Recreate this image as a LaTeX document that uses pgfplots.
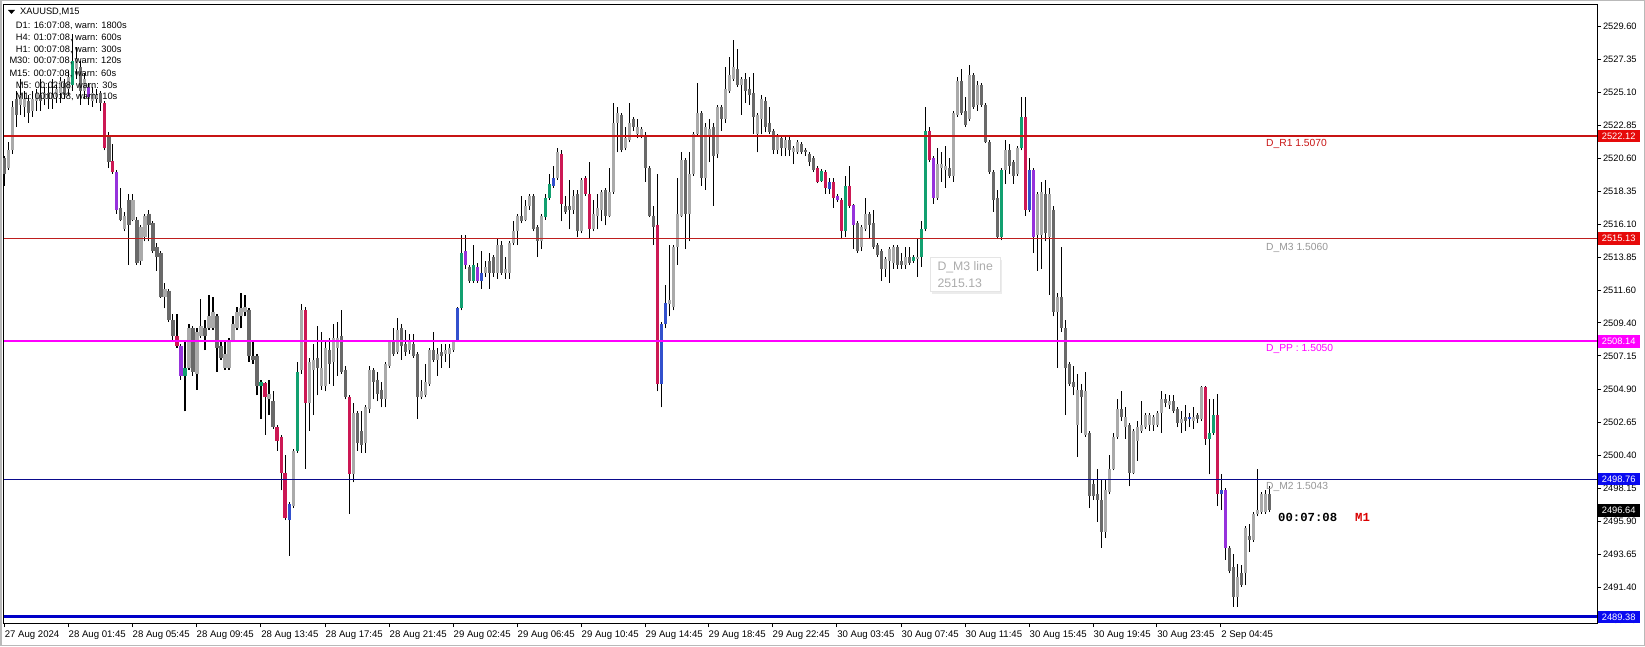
\documentclass[border=0pt]{standalone}
\usepackage{pgfplots}
\pgfplotsset{compat=1.18}
\usepackage{pgfplotstable}
\usepackage{fontspec}
\setmainfont{Liberation Sans}
\setmonofont{Liberation Mono}
\usetikzlibrary{shadows}

\definecolor{cLight}{RGB}{170,170,170}
\definecolor{cDark}{RGB}{105,105,105}
\definecolor{cGreen}{RGB}{18,160,112}
\definecolor{cCrimson}{RGB}{204,24,84}
\definecolor{cPurple}{RGB}{150,50,220}
\definecolor{cBlue}{RGB}{50,80,205}
\definecolor{cR1}{RGB}{200,20,20}
\definecolor{cM3}{RGB}{190,30,30}
\definecolor{cPP}{RGB}{255,0,255}
\definecolor{cM2}{RGB}{10,10,140}
\definecolor{cS1}{RGB}{0,0,200}
\definecolor{boxRed}{RGB}{230,10,10}
\definecolor{boxBlue}{RGB}{10,10,240}
\definecolor{lblGray}{RGB}{150,150,150}

\pgfplotstableread{
i o h l c k
0 2520.61 2520.74 2518.72 2519.53 1
1 2519.93 2521.68 2519.80 2521.14 0
2 2521.14 2524.51 2520.88 2524.10 0
3 2524.64 2525.18 2522.76 2523.57 1
4 2524.24 2525.99 2523.57 2524.91 0
5 2524.10 2525.18 2523.43 2524.64 0
6 2524.51 2524.91 2523.03 2523.70 1
7 2523.84 2525.18 2523.43 2524.64 0
8 2524.51 2525.32 2523.84 2525.05 0
9 2524.91 2525.99 2523.84 2524.51 1
10 2524.64 2525.45 2524.24 2525.05 0
11 2525.05 2525.72 2523.97 2524.64 1
12 2524.64 2525.99 2523.97 2524.91 0
13 2524.78 2525.58 2524.37 2525.32 0
14 2525.05 2526.12 2524.37 2525.85 0
15 2525.72 2525.99 2524.64 2524.91 1
16 2525.32 2526.53 2524.91 2526.12 0
17 2525.58 2529.08 2525.18 2527.20 2
18 2526.66 2528.14 2525.99 2527.33 0
19 2526.80 2527.20 2524.24 2525.18 1
20 2525.18 2526.39 2524.64 2525.99 0
21 2525.45 2525.72 2524.24 2524.78 4
22 2524.51 2525.45 2524.10 2525.05 0
23 2524.64 2525.32 2524.37 2524.91 0
24 2525.05 2525.18 2523.84 2524.37 1
25 2524.37 2524.51 2521.14 2521.28 3
26 2522.09 2522.36 2519.93 2520.34 1
27 2520.39 2521.55 2519.53 2519.66 3
28 2519.66 2519.80 2516.84 2517.11 4
29 2517.24 2518.59 2516.30 2516.43 1
30 2515.76 2516.97 2515.63 2516.70 0
31 2517.78 2518.18 2513.34 2516.03 1
32 2516.43 2518.18 2516.30 2517.78 0
33 2516.43 2516.57 2513.34 2513.47 1
34 2513.61 2516.03 2513.34 2515.90 0
35 2515.22 2516.84 2514.95 2516.70 0
36 2516.84 2517.11 2514.95 2516.03 1
37 2516.17 2516.30 2514.15 2514.28 1
38 2514.55 2514.82 2512.94 2513.88 1
39 2514.15 2514.28 2511.10 2511.19 1
40 2511.19 2512.13 2510.38 2511.73 0
41 2511.59 2511.73 2509.44 2509.57 1
42 2509.57 2509.98 2508.23 2508.50 1
43 2508.50 2509.98 2507.69 2507.82 3
44 2507.82 2507.96 2505.54 2505.81 4
45 2505.81 2508.23 2503.38 2506.34 2
46 2506.34 2509.30 2506.21 2509.03 0
47 2509.03 2509.17 2505.81 2506.07 1
48 2505.94 2509.03 2504.86 2508.77 0
49 2508.50 2511.05 2508.36 2509.17 0
50 2509.03 2509.57 2507.55 2508.50 1
51 2509.03 2511.32 2508.90 2509.84 0
52 2509.03 2511.19 2508.90 2510.11 0
53 2509.84 2509.98 2506.07 2507.69 1
54 2507.82 2508.23 2506.88 2507.02 1
55 2506.34 2508.23 2506.21 2507.29 0
56 2506.34 2508.36 2506.21 2508.23 0
57 2508.23 2509.84 2508.09 2509.30 0
58 2509.03 2510.51 2508.90 2510.11 0
59 2509.84 2511.46 2509.03 2510.38 0
60 2510.11 2511.32 2509.84 2510.51 0
61 2510.25 2510.38 2506.75 2507.15 1
62 2507.15 2508.23 2506.61 2506.88 1
63 2507.15 2507.29 2504.46 2505.13 1
64 2505.13 2505.54 2502.85 2505.40 2
65 2505.32 2505.40 2501.77 2504.32 3
66 2504.19 2505.54 2503.11 2504.59 0
67 2504.06 2504.73 2502.17 2502.31 1
68 2502.31 2502.44 2500.69 2501.37 3
69 2501.63 2501.77 2498.00 2499.21 3
70 2499.21 2500.42 2495.98 2496.12 3
71 2495.98 2497.19 2493.56 2497.06 5
72 2496.92 2500.83 2496.79 2500.69 0
73 2500.69 2506.75 2500.56 2506.07 2
74 2506.21 2510.65 2505.94 2510.25 0
75 2510.25 2510.51 2499.48 2503.92 3
76 2503.92 2507.02 2502.04 2506.75 0
77 2506.21 2507.96 2503.11 2506.88 0
78 2507.02 2509.17 2504.46 2506.34 1
79 2505.13 2508.77 2504.86 2506.34 0
80 2505.13 2508.23 2504.73 2507.69 0
81 2507.55 2508.36 2505.27 2506.61 1
82 2506.75 2509.30 2505.13 2508.36 0
83 2507.69 2509.44 2505.81 2508.36 0
84 2508.50 2510.25 2505.94 2506.07 1
85 2506.21 2506.48 2504.19 2504.32 1
86 2504.32 2504.46 2496.39 2499.08 3
87 2499.08 2503.92 2498.54 2503.25 0
88 2503.25 2503.38 2500.69 2501.23 1
89 2502.04 2503.38 2500.56 2501.10 1
90 2501.23 2503.79 2500.56 2503.65 0
91 2503.52 2506.48 2503.25 2506.21 0
92 2506.21 2506.34 2504.19 2505.40 1
93 2505.54 2506.07 2504.06 2504.59 1
94 2504.86 2505.40 2503.65 2504.19 1
95 2504.19 2506.75 2503.65 2506.61 0
96 2506.48 2508.23 2506.34 2508.09 0
97 2508.23 2509.03 2507.15 2507.29 1
98 2507.42 2509.71 2507.29 2508.90 0
99 2509.03 2509.30 2506.88 2507.82 1
100 2507.96 2508.90 2507.15 2507.42 1
101 2507.55 2508.63 2507.29 2508.23 0
102 2507.96 2508.63 2507.02 2507.15 1
103 2507.29 2507.42 2502.85 2504.32 1
104 2504.32 2505.54 2504.19 2504.73 0
105 2504.46 2506.61 2504.32 2505.40 0
106 2505.27 2507.69 2505.13 2507.55 0
107 2507.55 2508.77 2506.75 2506.88 1
108 2506.88 2507.69 2505.81 2507.29 0
109 2507.42 2507.96 2506.34 2507.15 1
110 2507.29 2507.96 2506.75 2507.55 0
111 2507.29 2507.96 2506.34 2507.69 0
112 2507.55 2508.23 2507.42 2508.09 0
113 2508.23 2510.51 2508.09 2510.38 5
114 2510.38 2515.36 2510.25 2514.15 2
115 2514.28 2515.36 2513.07 2513.34 4
116 2513.21 2513.34 2512.13 2512.26 1
117 2512.26 2514.69 2512.13 2513.34 2
118 2513.21 2513.47 2512.13 2512.26 4
119 2512.26 2514.28 2511.73 2512.80 5
120 2512.80 2513.61 2512.53 2513.21 0
121 2513.61 2514.15 2511.73 2512.80 1
122 2513.88 2514.01 2512.53 2512.80 1
123 2512.80 2515.09 2512.40 2514.69 0
124 2514.69 2514.95 2512.67 2512.80 1
125 2512.80 2513.88 2512.40 2513.07 0
126 2512.80 2514.95 2512.40 2514.82 0
127 2514.82 2516.30 2514.69 2515.63 0
128 2515.63 2516.84 2514.69 2516.70 0
129 2516.70 2518.05 2516.17 2516.30 1
130 2516.43 2517.78 2516.30 2517.38 0
131 2517.38 2518.18 2517.11 2518.05 0
132 2518.05 2518.18 2515.63 2515.76 1
133 2515.90 2516.03 2513.88 2514.95 1
134 2514.95 2516.84 2514.42 2516.70 0
135 2516.57 2518.18 2516.43 2517.91 2
136 2517.91 2519.53 2517.78 2518.86 2
137 2518.72 2520.07 2518.59 2519.26 5
138 2519.26 2521.28 2519.13 2521.01 0
139 2520.88 2521.14 2516.30 2517.51 3
140 2517.38 2518.05 2516.84 2516.97 1
141 2517.38 2519.13 2515.76 2517.11 1
142 2517.11 2518.45 2516.84 2518.05 0
143 2518.18 2518.45 2515.22 2515.63 1
144 2515.63 2519.26 2515.49 2519.13 0
145 2519.26 2519.40 2518.05 2518.18 3
146 2518.18 2520.34 2515.09 2515.76 3
147 2515.76 2517.78 2515.63 2516.84 0
148 2516.70 2518.18 2515.76 2517.24 0
149 2517.11 2518.45 2516.30 2518.32 0
150 2518.45 2518.59 2516.03 2516.70 1
151 2516.70 2519.93 2516.57 2518.32 0
152 2518.32 2524.37 2518.18 2523.03 0
153 2523.03 2524.10 2521.01 2523.70 0
154 2523.57 2523.70 2521.01 2521.14 1
155 2521.28 2522.76 2521.14 2521.95 0
156 2521.82 2524.37 2521.68 2523.03 0
157 2523.30 2523.43 2522.49 2522.76 1
158 2522.22 2523.30 2521.95 2522.76 0
159 2522.09 2522.76 2521.95 2522.62 0
160 2522.09 2522.36 2518.99 2519.93 1
161 2519.93 2520.07 2516.57 2516.70 1
162 2516.70 2517.38 2514.69 2515.90 1
163 2516.09 2519.53 2504.73 2505.27 3
164 2505.27 2509.44 2503.65 2509.30 5
165 2509.30 2511.99 2509.03 2510.78 5
166 2510.65 2514.69 2509.84 2510.92 0
167 2510.51 2514.69 2510.25 2514.55 0
168 2514.55 2519.26 2513.34 2516.84 0
169 2516.70 2521.01 2516.57 2520.47 0
170 2520.47 2520.61 2514.42 2516.84 1
171 2516.84 2521.01 2514.95 2519.53 0
172 2519.53 2522.36 2519.40 2522.22 0
173 2522.22 2525.72 2522.09 2523.70 0
174 2523.70 2523.84 2518.72 2519.26 1
175 2519.26 2523.03 2518.45 2522.76 0
176 2522.09 2523.30 2520.34 2522.62 0
177 2522.76 2523.03 2517.38 2520.74 1
178 2520.88 2524.24 2520.61 2524.10 0
179 2524.10 2524.24 2522.49 2523.30 1
180 2523.30 2526.80 2523.03 2525.32 0
181 2525.18 2527.47 2525.05 2526.26 0
182 2525.99 2528.68 2525.85 2526.80 0
183 2526.66 2528.01 2525.45 2525.58 1
184 2525.58 2526.12 2523.57 2525.99 0
185 2525.99 2526.39 2524.37 2525.18 1
186 2525.32 2526.12 2524.24 2524.91 1
187 2525.05 2526.39 2522.22 2523.43 1
188 2522.22 2523.70 2521.01 2523.57 0
189 2523.30 2524.91 2522.22 2524.64 0
190 2524.51 2524.78 2522.36 2522.76 1
191 2523.03 2524.10 2522.22 2522.36 1
192 2522.49 2522.62 2520.88 2521.14 1
193 2521.14 2522.22 2520.88 2522.09 0
194 2521.95 2522.09 2520.74 2521.28 1
195 2521.28 2522.09 2520.74 2521.82 0
196 2521.82 2522.09 2520.74 2521.14 1
197 2521.01 2521.41 2520.20 2521.28 0
198 2521.01 2521.82 2520.88 2521.68 0
199 2521.55 2521.68 2520.88 2521.01 1
200 2521.14 2521.28 2520.74 2521.01 1
201 2520.88 2521.01 2520.07 2520.34 1
202 2520.61 2520.74 2519.66 2519.80 1
203 2519.93 2520.07 2518.90 2518.99 3
204 2519.05 2519.85 2518.99 2519.75 2
205 2519.66 2519.80 2518.18 2518.59 3
206 2518.51 2519.26 2518.18 2518.99 5
207 2518.99 2519.26 2517.24 2517.91 3
208 2518.05 2518.18 2517.65 2517.78 4
209 2517.78 2517.91 2515.09 2515.63 3
210 2515.63 2519.40 2515.22 2518.72 2
211 2518.72 2520.07 2517.24 2517.38 3
212 2517.43 2517.51 2514.42 2516.03 4
213 2516.17 2516.30 2514.15 2514.28 1
214 2514.55 2516.03 2514.28 2515.90 0
215 2515.76 2517.91 2515.63 2516.84 0
216 2516.84 2516.97 2515.09 2516.03 1
217 2516.17 2517.11 2514.42 2514.55 1
218 2514.69 2514.82 2513.88 2514.01 1
219 2514.28 2514.42 2512.26 2513.07 1
220 2513.07 2513.88 2512.53 2513.74 0
221 2513.61 2514.55 2512.13 2514.42 0
222 2513.47 2514.69 2513.07 2514.55 0
223 2514.55 2514.69 2513.07 2513.34 1
224 2513.61 2514.15 2513.07 2513.34 1
225 2513.34 2514.55 2513.07 2513.88 0
226 2513.88 2514.55 2513.34 2513.47 1
227 2513.61 2514.01 2513.47 2513.88 2
228 2513.74 2515.09 2512.53 2513.88 0
229 2513.88 2516.30 2513.21 2515.76 2
230 2515.76 2524.10 2515.63 2522.49 2
231 2522.49 2522.76 2520.34 2520.47 3
232 2520.61 2520.74 2517.51 2517.91 4
233 2517.91 2521.28 2517.78 2520.20 0
234 2519.93 2521.01 2518.99 2520.20 0
235 2519.80 2521.41 2518.59 2520.07 0
236 2519.93 2520.61 2519.26 2519.40 1
237 2519.40 2523.84 2518.99 2523.70 0
238 2523.57 2526.12 2523.43 2525.85 0
239 2525.85 2526.66 2523.57 2523.70 1
240 2523.84 2524.78 2522.76 2522.89 1
241 2523.30 2526.93 2523.16 2526.26 0
242 2526.26 2526.39 2523.97 2524.10 1
243 2524.24 2525.85 2523.84 2525.58 0
244 2525.58 2525.72 2524.10 2524.24 1
245 2524.24 2524.37 2521.63 2521.68 1
246 2521.68 2521.82 2519.53 2519.66 1
247 2519.66 2519.80 2516.97 2517.78 1
248 2517.91 2518.45 2515.09 2515.22 1
249 2515.22 2519.93 2515.01 2519.80 2
250 2519.80 2521.82 2518.86 2521.14 0
251 2521.14 2521.55 2519.53 2520.07 1
252 2520.34 2520.47 2518.86 2519.40 1
253 2519.53 2521.41 2519.40 2521.28 0
254 2521.28 2524.78 2521.14 2523.43 2
255 2523.43 2524.78 2516.70 2517.11 3
256 2517.11 2520.61 2516.97 2519.80 5
257 2519.80 2519.93 2514.15 2515.22 4
258 2515.36 2518.32 2512.94 2518.18 0
259 2515.36 2518.99 2513.07 2518.32 0
260 2518.18 2519.13 2514.95 2515.49 1
261 2515.22 2518.59 2511.32 2518.18 0
262 2517.11 2517.38 2509.84 2510.11 1
263 2510.11 2511.46 2506.34 2511.19 0
264 2511.19 2514.55 2508.77 2509.03 1
265 2509.03 2509.57 2503.11 2506.34 1
266 2506.61 2506.75 2505.13 2505.27 1
267 2505.40 2506.48 2504.46 2505.00 1
268 2502.44 2505.94 2500.29 2504.86 0
269 2504.86 2505.27 2501.91 2504.32 1
270 2501.77 2506.07 2501.63 2504.73 0
271 2501.91 2502.04 2496.79 2497.60 1
272 2498.41 2498.67 2497.33 2497.60 1
273 2497.73 2499.48 2495.85 2497.33 1
274 2497.33 2498.67 2494.10 2495.18 1
275 2495.18 2498.80 2494.77 2498.00 0
276 2497.87 2500.42 2497.73 2499.48 0
277 2499.48 2501.91 2499.35 2501.63 0
278 2501.63 2504.19 2501.50 2503.52 0
279 2503.52 2504.73 2502.71 2502.98 1
280 2502.31 2503.65 2501.50 2502.98 0
281 2502.44 2502.58 2498.27 2499.21 1
282 2499.21 2502.17 2499.08 2502.04 0
283 2501.37 2502.71 2500.02 2502.31 0
284 2502.04 2504.06 2501.91 2502.44 0
285 2502.31 2503.25 2502.17 2503.11 0
286 2502.44 2503.25 2502.04 2503.11 0
287 2502.44 2503.11 2502.04 2502.98 0
288 2502.44 2503.38 2502.31 2503.25 0
289 2503.25 2504.73 2501.91 2504.19 0
290 2504.19 2504.59 2503.65 2503.92 1
291 2503.79 2504.46 2503.52 2504.06 0
292 2504.06 2504.46 2503.25 2503.38 1
293 2503.52 2503.65 2502.31 2502.58 1
294 2502.58 2503.38 2501.91 2502.85 0
295 2502.98 2503.79 2502.04 2502.71 1
296 2502.85 2503.25 2502.31 2502.98 5
297 2502.71 2503.65 2502.17 2502.98 0
298 2503.11 2503.25 2502.58 2502.85 1
299 2502.85 2505.13 2502.71 2505.00 0
300 2505.00 2505.13 2501.10 2501.50 3
301 2501.50 2504.19 2499.08 2501.91 2
302 2501.91 2504.19 2501.77 2503.11 2
303 2503.11 2504.59 2496.92 2497.73 3
304 2497.73 2499.08 2496.66 2498.00 5
305 2498.00 2498.14 2493.29 2494.10 4
306 2494.10 2494.23 2492.35 2492.49 1
307 2492.75 2493.70 2490.06 2490.74 1
308 2490.74 2493.02 2490.06 2492.08 0
309 2492.35 2492.89 2491.41 2491.54 1
310 2492.35 2495.58 2491.54 2495.44 0
311 2494.91 2495.71 2493.83 2494.64 1
312 2494.64 2496.52 2494.50 2496.39 0
313 2496.39 2499.48 2496.25 2496.66 0
314 2496.52 2497.87 2496.39 2497.73 0
315 2496.52 2498.00 2496.39 2497.73 0
316 2497.73 2498.27 2496.52 2496.64 1
}\candles

\pgfplotsset{
  body/.style n args={3}{forget plot, mark=none, draw=#3, -, line width=3pt, line cap=butt,
     restrict expr to domain={\thisrow{k}}{#1:#2},
     quiver={u=0, v=\thisrow{c}-\thisrow{o}}},
}
\newcommand{\bodyplot}[3]{%
  \addplot[body={#1}{#2}{#3}] table[x=i, y=o] {\candles};}

\begin{document}
\begin{tikzpicture}
\path[use as bounding box] (0pt,0pt) rectangle (1645pt,646pt);
\draw[gray!55, line width=1.5pt] (0.75pt,0.75pt) rectangle (1644.25pt,645.25pt);
\begin{axis}[
  scale only axis, width=1593pt, height=619pt,
  at={(4pt,23pt)}, anchor=south west,
  xmin=-0.25, xmax=398, ymin=2488.97, ymax=2531.10,
  clip=false,
  axis line style={black, line width=1pt},
  tick style={black, line width=0.8pt},
  tick align=outside, major tick length=4pt,
  xtick pos=left, ytick pos=right, yticklabel pos=right,
  xtick={-0.2,15.75,31.75,47.75,63.9,80,96,112,128,144,160,175.75,191.75,207.9,224,240,256,272,287.9,303.9},
  xticklabels={27 Aug 2024,28 Aug 01:45,28 Aug 05:45,28 Aug 09:45,28 Aug 13:45,28 Aug 17:45,28 Aug 21:45,29 Aug 02:45,29 Aug 06:45,29 Aug 10:45,29 Aug 14:45,29 Aug 18:45,29 Aug 22:45,30 Aug 03:45,30 Aug 07:45,30 Aug 11:45,30 Aug 15:45,30 Aug 19:45,30 Aug 23:45,2 Sep 04:45},
  ytick={2489.15,2491.40,2493.65,2495.90,2498.15,2500.40,2502.65,2504.90,2507.15,2509.40,2511.60,2513.85,2516.10,2518.35,2520.60,2522.85,2525.10,2527.35,2529.60},
  yticklabels={2489.15,2491.40,2493.65,2495.90,2498.15,2500.40,2502.65,2504.90,2507.15,2509.40,2511.60,2513.85,2516.10,2518.35,2520.60,2522.85,2525.10,2527.35,2529.60},
  xticklabel style={anchor=north west, xshift=0.5pt, font=\fontsize{9.6}{10}\selectfont, inner xsep=0pt},
  yticklabel style={font=\fontsize{9.3}{10}\selectfont, xshift=-1.5pt},
]
% wicks
\addplot[forget plot, mark=none, draw=black, -, line width=1pt, line cap=butt,
  quiver={u=0, v=\thisrow{h}-\thisrow{l}}]
  table[x=i, y=l] {\candles};
% bodies
\bodyplot{-0.5}{0.5}{cLight}
\bodyplot{0.5}{1.5}{cDark}
\bodyplot{1.5}{2.5}{cGreen}
\bodyplot{2.5}{3.5}{cCrimson}
\bodyplot{3.5}{4.5}{cPurple}
\bodyplot{4.5}{5.5}{cBlue}
% level lines
\addplot[cR1, line width=2pt, forget plot] coordinates {(-0.25,2522.12) (398,2522.12)};
\addplot[cM3, line width=1pt, forget plot] coordinates {(-0.25,2515.13) (398,2515.13)};
\addplot[cPP, line width=2pt, forget plot] coordinates {(-0.25,2508.14) (398,2508.14)};
\addplot[cM2, line width=1pt, forget plot] coordinates {(-0.25,2498.76) (398,2498.76)};
\addplot[cS1, line width=3pt, forget plot] coordinates {(-0.25,2489.38) (398,2489.38)};
% level texts
\tikzset{lvl/.style={anchor=north west, font=\fontsize{10.3}{11}\selectfont, inner sep=0pt, yshift=-3pt}}
\node[lvl, text=cR1] at (axis cs:315.25,2522.12) {D\_R1 1.5070};
\node[lvl, text=lblGray, yshift=-1.5pt] at (axis cs:315.25,2515.13) {D\_M3 1.5060};
\node[lvl, text=cPP] at (axis cs:315.25,2508.14) {D\_PP : 1.5050};
\node[lvl, text=lblGray] at (axis cs:315.25,2498.76) {D\_M2 1.5043};
% countdown
\node[anchor=west, inner sep=0pt, font=\ttfamily\bfseries\fontsize{12.3}{12}\selectfont] at (axis cs:318.25,2496.18) {00:07:08};
\node[anchor=west, inner sep=0pt, text=red!85!black, font=\ttfamily\bfseries\fontsize{12.3}{12}\selectfont] at (axis cs:337.5,2496.18) {M1};
% tooltip
\node[anchor=north west, draw=gray!20, fill=white, drop shadow={opacity=0.15, shadow xshift=2pt, shadow yshift=-2pt},
  align=left, text=gray!65, font=\fontsize{12.3}{17}\selectfont, inner xsep=5pt, inner ysep=4pt, minimum width=70pt]
  at (axis cs:231.25,2513.85) {D\_M3 line\\2515.13};
\coordinate (bR1) at (axis cs:398,2522.12);
\coordinate (bM3) at (axis cs:398,2515.13);
\coordinate (bPP) at (axis cs:398,2508.14);
\coordinate (bM2) at (axis cs:398,2498.76);
\coordinate (bCur) at (axis cs:398,2496.64);
\coordinate (bS1) at (axis cs:398,2489.38);
\end{axis}
% price boxes on the right scale
\tikzset{pbox/.style={anchor=west, text=white, inner xsep=1pt, inner ysep=0pt, minimum height=12.5pt, minimum width=42pt, font=\fontsize{9.3}{10}\selectfont}}
\node[pbox, fill=boxRed] at ([xshift=0.5pt]bR1) {2522.12};
\node[pbox, fill=boxRed] at ([xshift=0.5pt]bM3) {2515.13};
\node[pbox, fill=cPP] at ([xshift=0.5pt]bPP) {2508.14};
\node[pbox, fill=boxBlue] at ([xshift=0.5pt]bM2) {2498.76};
\node[pbox, fill=black] at ([xshift=0.5pt]bCur) {2496.64};
\node[pbox, fill=boxBlue] at ([xshift=0.5pt]bS1) {2489.38};
% header texts (top-left)
\fill[black] (8pt,636pt) -- (15pt,636pt) -- (11.5pt,632pt) -- cycle;
\tikzset{hdr/.style={anchor=west, inner sep=0pt, font=\fontsize{9.3}{10}\selectfont}}
\node[hdr] at (20pt,633.7pt) {XAUUSD,M15};
\node[hdr] at (15.7pt,620.3pt) {D1: 16:07:08, warn: 1800s};
\node[hdr] at (15.7pt,608.4pt) {H4: 01:07:08, warn: 600s};
\node[hdr] at (15.7pt,596.6pt) {H1: 00:07:08, warn: 300s};
\node[hdr] at (9.3pt,584.7pt) {M30: 00:07:08, warn: 120s};
\node[hdr] at (9.3pt,572.5pt) {M15: 00:07:08, warn: 60s};
\node[hdr] at (15.7pt,560.6pt) {M5: 00:02:08, warn: 30s};
\node[hdr] at (15.7pt,548.7pt) {M1: 00:00:08, warn: 10s};
\end{tikzpicture}
\end{document}
